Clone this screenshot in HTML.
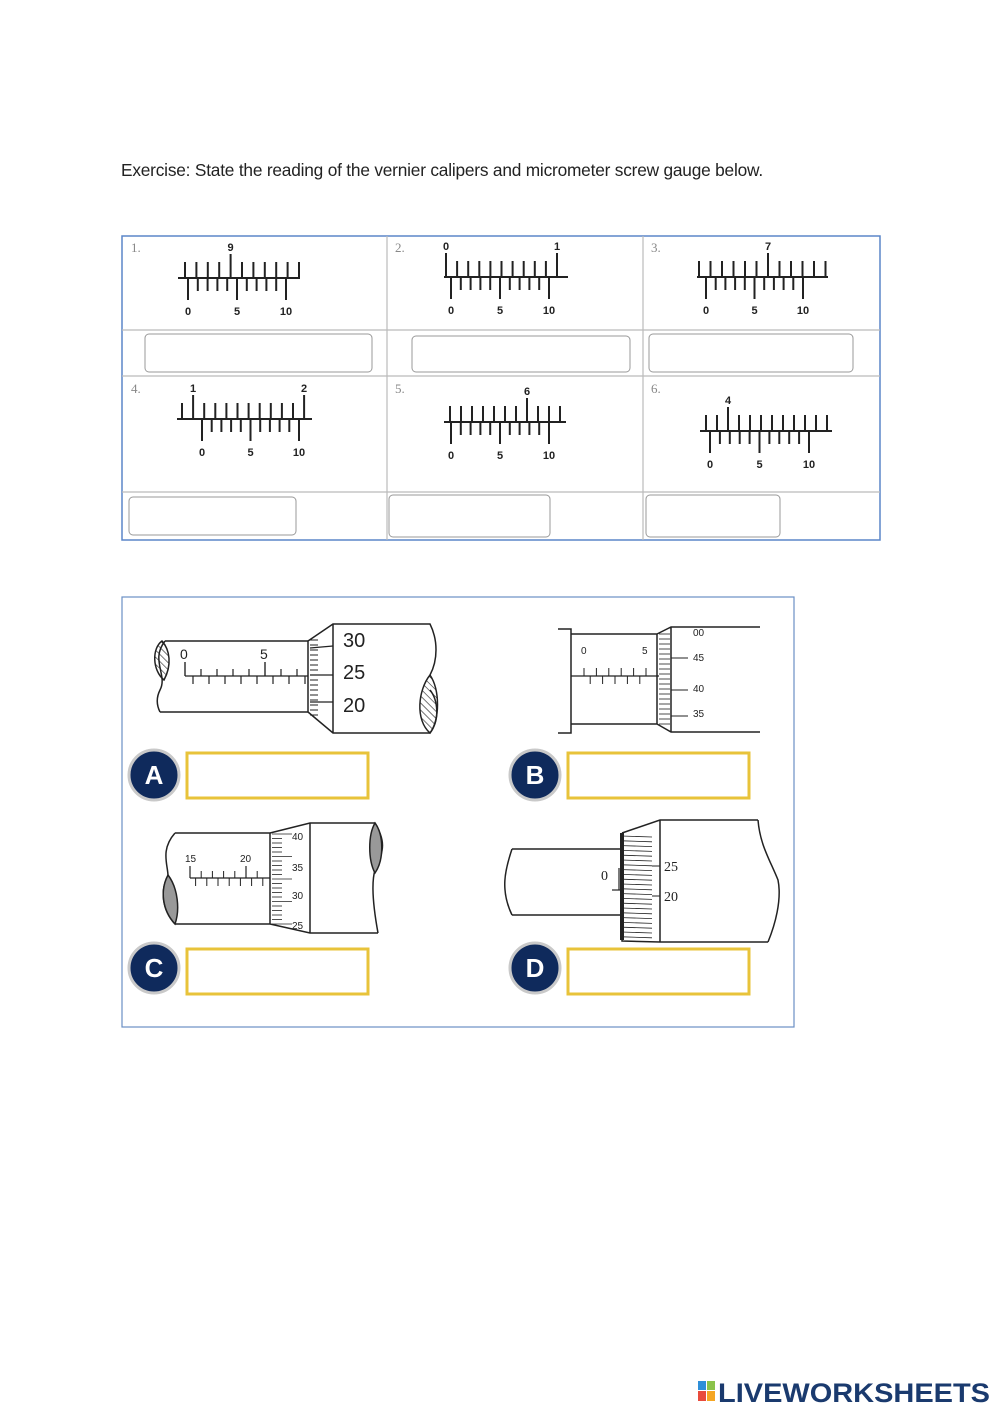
<!DOCTYPE html>
<html><head><meta charset="utf-8"><style>
body{margin:0;background:#fff}
#w{position:relative;width:1000px;height:1413px;overflow:hidden;font-family:"Liberation Sans",sans-serif}
</style></head><body><div id="w">
<div style="position:absolute;left:121px;top:160px;font-size:17.3px;color:#222;white-space:nowrap;letter-spacing:-0.2px">Exercise: State the reading of the vernier calipers and micrometer screw gauge below.</div>
<svg id="s" width="1000" height="1413" style="position:absolute;left:0;top:0" xmlns="http://www.w3.org/2000/svg">
<defs><pattern id="h" width="5" height="5" patternUnits="userSpaceOnUse" patternTransform="rotate(-45)"><line x1="0" y1="0" x2="0" y2="5" stroke="#222" stroke-width="1.2"/></pattern></defs>
<g fill="none" stroke="#bbb" stroke-width="1.2">
<rect x="122" y="236" width="758" height="304" stroke="#5b86c9" stroke-width="1.5"/>
<line x1="122" y1="330" x2="880" y2="330"/><line x1="122" y1="376" x2="880" y2="376"/><line x1="122" y1="492" x2="880" y2="492"/>
<line x1="387" y1="236" x2="387" y2="540"/><line x1="643" y1="236" x2="643" y2="540"/>
<g stroke="#999" stroke-width="1">
<rect x="145" y="334" width="227" height="38" rx="4"/><rect x="412" y="336" width="218" height="36" rx="4"/><rect x="649" y="334" width="204" height="38" rx="4"/>
<rect x="129" y="497" width="167" height="38" rx="4"/><rect x="389" y="495" width="161" height="42" rx="4"/><rect x="646" y="495" width="134" height="42" rx="4"/>
</g></g>
<g font-family="Liberation Serif,serif" font-size="13" fill="#888">
<text x="131" y="252">1.</text><text x="395" y="252">2.</text><text x="651" y="252">3.</text>
<text x="131" y="393">4.</text><text x="395" y="393">5.</text><text x="651" y="393">6.</text></g>
<g id="vern" stroke="#222" stroke-width="2" font-family="Liberation Sans,sans-serif" font-weight="bold" font-size="11"></g>

<rect x="122" y="597" width="672" height="430" fill="none" stroke="#6a8fc4" stroke-width="1.2"/>
<g id="mic" fill="none" stroke="#222" stroke-width="1.5"></g>
<g font-family="Liberation Sans,sans-serif">
<g fill="#0f2a5c" stroke="#c9c9c9" stroke-width="3">
<circle cx="154" cy="775" r="25"/><circle cx="535" cy="775" r="25"/><circle cx="154" cy="968" r="25"/><circle cx="535" cy="968" r="25"/></g>
<g fill="#fff" font-weight="bold" font-size="26" text-anchor="middle">
<text x="154" y="784">A</text><text x="535" y="784">B</text><text x="154" y="977">C</text><text x="535" y="977">D</text></g>
<g fill="none" stroke="#e8c33a" stroke-width="3">
<rect x="187" y="753" width="181" height="45"/><rect x="568" y="753" width="181" height="45"/>
<rect x="187" y="949" width="181" height="45"/><rect x="568" y="949" width="181" height="45"/></g>
</g>
<g font-family="Liberation Sans,sans-serif" font-weight="bold" font-size="27" fill="#1a3a6e">
<text x="718" y="1402" textLength="272" lengthAdjust="spacingAndGlyphs">LIVEWORKSHEETS</text></g>
<rect x="698" y="1381" width="8" height="9" fill="#2f8fd8"/><rect x="707" y="1381" width="8" height="9" fill="#8bc34a"/>
<rect x="698" y="1391" width="8" height="10" fill="#e94b3c"/><rect x="707" y="1391" width="8" height="10" fill="#f5a623"/>
</svg>
<script>
var NS="http://www.w3.org/2000/svg";
function el(p,t,a,txt){var e=document.createElementNS(NS,t);for(var k in a)e.setAttribute(k,a[k]);if(txt!=null)e.textContent=txt;p.appendChild(e);return e;}
function L(p,x1,y1,x2,y2,w){el(p,"line",{x1:x1,y1:y1,x2:x2,y2:y2,"stroke-width":w||2});}
var V=document.getElementById("vern");
function vern(a,b,y,us,sp,n,longs,v0,v10){
 L(V,a,y,b,y);
 for(var i=0;i<n;i++){var x=us+i*sp;var lg=longs[i];L(V,x,y,x,y-(lg?24:16));if(lg)el(V,"text",{x:x,y:y-27,"text-anchor":"middle",stroke:"none",fill:"#222"},lg);}
 var d=(v10-v0)/10;
 for(var j=0;j<=10;j++){var x=v0+j*d;var lg=j%5==0;L(V,x,y,x,y+(lg?22:13));}
 [[0,"0"],[5,"5"],[10,"10"]].forEach(function(q){el(V,"text",{x:v0+q[0]*d,y:y+37,"text-anchor":"middle",stroke:"none",fill:"#222"},q[1]);});
}
vern(178,300,278,185,11.4,11,{4:"9"},188,286);
vern(444,568,277,446,11.1,11,{0:"0",10:"1"},451,549);
vern(697,828,277,699,11.5,12,{6:"7"},706,803);
vern(177,312,419,182,11.1,12,{1:"1",11:"2"},202,299);
vern(444,566,422,450,11,11,{7:"6"},451,549);
vern(700,832,431,706,11,12,{2:"4"},710,809);

var M=document.getElementById("mic");
function P(d,f){el(M,"path",{d:d,fill:f||"none"});}
function T(x,y,s,fs,fam){el(M,"text",{x:x,y:y,"font-size":fs,fill:"#222",stroke:"none","font-family":fam||"Liberation Sans,sans-serif"},s);}
// A
P("M165 641 H308 M160 712 H308 M165 641 C150 660 168 675 160 690 C155 700 158 708 160 712");
P("M162 641 C152 648 152 670 164 680 C172 665 170 650 162 641 Z","url(#h)");
P("M308 641 L333 624 H430 C438 640 438 660 430 675 M308 712 L333 733 H430 C440 720 438 700 430 690 M333 624 V733 M308 641 V712");
P("M430 675 C418 690 415 720 430 733 C440 720 440 690 430 675 Z","url(#h)");
L(M,185,662,185,676,1.2);L(M,185,676,308,676,1.2);
for(var i=0;i<16;i++){var x=185+i*8;L(M,x,676,x,i%2?684:(i%10==0?662:669),1.2);}
L(M,265,662,265,676,1.2);
T(180,659,"0",14);T(260,659,"5",14);
for(var i=0;i<16;i++){var y=640+i*5;L(M,310,y,318,y,1);}
L(M,310,675,333,675,1.2);L(M,310,702,333,702,1.2);L(M,310,648,333,646,1.2);
T(343,647,"30",20);T(343,679,"25",20);T(343,712,"20",20);
// B
P("M558 629 H571 V733 H558 M571 634 H657 M571 724 H657 M657 634 V724 M657 634 L671 627 H760 M657 724 L671 732 H760 M671 627 V732");
L(M,571,676,659,676,1.2);
for(var i=0;i<11;i++){var x=584+i*6.2;L(M,x,676,x,i%2?684:668,1);}
T(581,654,"0",10);T(642,654,"5",10);
for(var i=0;i<19;i++){var y=634+i*5;L(M,659,y,670,y,0.8);}
L(M,671,658,688,658,1);L(M,671,690,688,690,1);L(M,671,716,688,716,1);
T(693,636,"00",10);T(693,661,"45",10);T(693,692,"40",10);T(693,717,"35",10);
// C
P("M175 833 H270 M175 924 H270 M270 833 V924 M175 833 C160 850 168 865 168 876 M168 876 C160 890 162 910 175 924 M270 833 L310 823 H375 M270 924 L310 933 H378 M310 823 V933 M375 823 C385 840 385 850 375 870 C372 880 372 900 378 933");
P("M168 875 C160 890 162 910 175 924 C180 910 178 888 168 875 Z","#999");
P("M375 823 C384 835 384 860 375 873 C368 860 368 835 375 823 Z","#999");
L(M,190,866,190,878,1.2);L(M,190,878,270,878,1.2);
for(var i=0;i<14;i++){var x=190+i*5.6;L(M,x,878,x,i%2?886:871,1);}
L(M,246,866,246,878,1.2);
T(185,862,"15",10);T(240,862,"20",10);
for(var i=0;i<21;i++){var y=834+i*4.5;L(M,272,y,i%5==0?292:282,y,0.8);}
T(292,840,"40",10);T(292,871,"35",10);T(292,899,"30",10);T(292,929,"25",10);
// D
P("M512 849 H622 M512 915 H622 M512 849 C505 870 500 890 512 915 M622 833 L660 820 H758 M622 833 V941 L660 942 H768 M660 820 V942 M758 820 C760 845 770 860 778 880 C782 900 775 925 768 942");
for(var i=0;i<22;i++){var y=836+i*4.8;L(M,622,y,652,y+1,0.8);}
L(M,619,868,619,890,1.2);L(M,612,890,622,890,1.2);
L(M,652,866,660,866,1);L(M,652,896,660,896,1);
el(M,"rect",{x:620,y:833,width:4,height:107,fill:"#222",stroke:"none"});
T(664,871,"25",14,"Liberation Serif,serif");T(664,901,"20",14,"Liberation Serif,serif");T(601,880,"0",14,"Liberation Serif,serif");
</script>
</div></body></html>
